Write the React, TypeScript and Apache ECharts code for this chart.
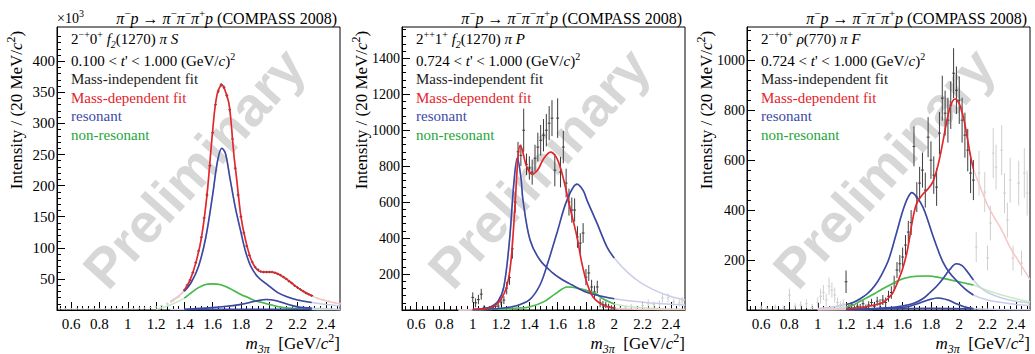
import React, { useEffect, useRef } from "react";
import * as echarts from "echarts";

// ---------------- tick labels ----------------
const X_TICK_LABELS = [0.6, 0.8, 1, 1.2, 1.4, 1.6, 1.8, 2, 2.2, 2.4];
const Y1_TICK_LABELS = [50, 100, 150, 200, 250, 300, 350, 400];
const Y2_TICK_LABELS = [200, 400, 600, 800, 1000, 1200, 1400];
const Y3_TICK_LABELS = [200, 400, 600, 800, 1000];

// ---------------- texts ----------------
const REACTION_TITLE =
  "{ni|π}{sup|−}{ni|p}{n| → }{ni|π}{sup|−}{ni|π}{sup|−}{ni|π}{sup|+}{ni|p}{n| (COMPASS 2008)}";
const WAVE_LABELS = [
  "{n|2}{sup|−+}{n|0}{sup|+}{n| }{ni|f}{sub|2}{n|(1270) }{ni|π S}",
  "{n|2}{sup|++}{n|1}{sup|+}{n| }{ni|f}{sub|2}{n|(1270) }{ni|π P}",
  "{n|2}{sup|−+}{n|0}{sup|+}{n| }{ni|ρ}{n|(770) }{ni|π F}",
];
const TPRIME_LABELS = [
  "{n|0.100 < }{ni|t}{n|' < 1.000 (GeV/}{ni|c}{n|)}{sup|2}",
  "{n|0.724 < }{ni|t}{n|' < 1.000 (GeV/}{ni|c}{n|)}{sup|2}",
  "{n|0.724 < }{ni|t}{n|' < 1.000 (GeV/}{ni|c}{n|)}{sup|2}",
];
const LEGEND_ITEMS = ["Mass-independent fit", "Mass-dependent fit", "resonant", "non-resonant"];
const Y_TITLE = "{n|Intensity / (20 MeV/}{ni|c}{sup|2}{n|)}";
const X_TITLE = "{ni|m}{sub|3π}{n|  [GeV/}{ni|c}{sup|2}{n|]}";
const WATERMARK = "Preliminary";

// ---------------- panel 1 : 2-+0+ f2(1270) pi S  (x10^3) ----------------
const P1_FIT_RANGE = [1.4, 2.3];
const p1Points = [
  [0.52, 2, 1], [0.56, 2, 1], [0.6, 2, 1], [0.64, 2, 1], [0.68, 2, 1], [0.72, 2, 1], [0.76, 2, 1],
  [0.8, 2, 1], [0.84, 2, 1], [0.88, 2, 1], [0.92, 2, 1], [0.96, 2, 1], [1.0, 2, 1], [1.04, 2, 1],
  [1.08, 3, 1], [1.12, 3, 1], [1.16, 4, 1], [1.2, 5, 1], [1.24, 7, 1], [1.28, 10, 2], [1.32, 15, 2],
  [1.36, 21, 2],
  [1.4, 32, 2], [1.42, 40, 2], [1.44, 48, 2], [1.46, 60, 2], [1.48, 76, 2], [1.5, 95, 2],
  [1.52, 117, 2], [1.54, 148, 2], [1.56, 185, 3], [1.58, 232, 3], [1.6, 285, 3], [1.62, 330, 3],
  [1.64, 352, 3], [1.66, 362, 3], [1.68, 358, 3], [1.7, 345, 3], [1.72, 322, 3], [1.74, 275, 3],
  [1.76, 228, 3], [1.78, 185, 3], [1.8, 150, 2], [1.82, 124, 2], [1.84, 103, 2], [1.86, 88, 2],
  [1.88, 77, 2], [1.9, 69, 2], [1.92, 65, 2], [1.94, 62, 2], [1.96, 61, 2], [1.98, 61, 2],
  [2.0, 61, 2], [2.02, 61, 2], [2.04, 60, 2], [2.06, 58, 2], [2.08, 56, 2], [2.1, 53, 2],
  [2.12, 50, 2], [2.14, 46, 2], [2.16, 43, 2], [2.18, 39, 2], [2.2, 36, 2], [2.22, 33, 2],
  [2.24, 30, 2], [2.26, 27, 2], [2.28, 25, 2], [2.3, 23, 2],
  [2.34, 19, 2], [2.38, 16, 2], [2.42, 14, 2], [2.46, 12, 2], [2.5, 10, 2],
];
const p1Total = [
  [1.3, 12], [1.35, 20], [1.4, 32], [1.44, 48], [1.48, 75], [1.52, 115], [1.56, 185], [1.6, 288],
  [1.63, 345], [1.665, 362], [1.7, 345], [1.72, 325], [1.75, 250], [1.77, 210], [1.8, 150],
  [1.83, 115], [1.87, 82], [1.91, 66], [1.95, 61], [2.0, 61], [2.05, 59], [2.1, 53], [2.15, 45],
  [2.2, 36], [2.25, 29], [2.3, 23], [2.35, 18], [2.4, 15], [2.45, 12], [2.5, 10],
];
const p1Res1 = [
  [1.3, 14], [1.35, 21], [1.4, 30], [1.45, 45], [1.5, 70], [1.55, 115], [1.6, 185], [1.635, 240],
  [1.665, 260], [1.69, 252], [1.72, 215], [1.76, 165], [1.8, 125], [1.83, 96], [1.87, 70],
  [1.92, 53], [1.98, 42], [2.06, 28], [2.13, 21], [2.2, 16], [2.3, 12], [2.4, 9], [2.5, 7],
];
const p1Res2 = [
  [1.3, 1], [1.4, 1], [1.55, 3], [1.7, 6], [1.8, 9], [1.9, 14], [1.98, 17], [2.05, 15], [2.12, 10],
  [2.2, 5], [2.3, 3], [2.4, 2], [2.5, 1],
];
const p1Res3 = [[1.4, 0.8], [1.7, 1.2], [2.0, 1.2], [2.3, 0.8]];
const p1Bkg = [
  [1.2, 1], [1.25, 4], [1.3, 8], [1.35, 13], [1.4, 19], [1.45, 28], [1.5, 36], [1.55, 41], [1.6, 42],
  [1.65, 41], [1.7, 37], [1.75, 31], [1.8, 25], [1.85, 20], [1.9, 15], [1.95, 12], [2.0, 9],
  [2.05, 6], [2.1, 4], [2.2, 2], [2.3, 1], [2.4, 0.5], [2.5, 0.3],
];

// ---------------- panel 2 : 2++1+ f2(1270) pi P ----------------
const P2_FIT_RANGE = [1.0, 2.0];
const p2Points = [
  [1.0, 70, 28], [1.02, 40, 25], [1.04, 58, 26], [1.06, 88, 30], [1.08, 15, 12], [1.1, 8, 8],
  [1.12, 10, 10], [1.14, 14, 10], [1.16, 20, 12], [1.18, 22, 14], [1.2, 44, 18], [1.22, 55, 22],
  [1.24, 122, 35], [1.26, 180, 40], [1.28, 340, 55], [1.3, 600, 60], [1.32, 880, 55],
  [1.34, 860, 60], [1.36, 1000, 120], [1.38, 810, 60], [1.4, 790, 65], [1.42, 767, 70],
  [1.44, 844, 75], [1.46, 906, 80], [1.48, 944, 85], [1.5, 972, 90], [1.52, 1000, 90],
  [1.54, 1039, 95], [1.56, 1067, 100], [1.58, 778, 90], [1.6, 1067, 110], [1.62, 767, 85],
  [1.64, 906, 90], [1.66, 706, 80], [1.68, 600, 75], [1.7, 556, 70], [1.72, 556, 65],
  [1.74, 406, 60], [1.76, 372, 55], [1.78, 428, 55], [1.8, 183, 45], [1.82, 206, 45],
  [1.84, 128, 40], [1.86, 100, 35], [1.88, 128, 35], [1.9, 40, 25], [1.92, 30, 20],
  [1.94, 28, 18], [1.96, 20, 15], [1.98, 15, 12], [2.0, 12, 10],
  [2.04, 10, 10], [2.08, 15, 12], [2.12, 20, 14], [2.16, 12, 12], [2.2, 25, 15], [2.24, 39, 20],
  [2.28, 30, 18], [2.32, 35, 18], [2.34, 67, 25], [2.38, 67, 25], [2.42, 45, 20], [2.46, 39, 20],
  [2.48, 50, 22],
];
const p2Total = [
  [0.9, 0.5], [1.0, 1], [1.1, 8], [1.15, 20], [1.2, 60], [1.24, 130], [1.27, 270], [1.3, 600],
  [1.32, 850], [1.335, 915], [1.35, 890], [1.38, 800], [1.42, 755], [1.46, 780], [1.5, 840],
  [1.55, 878], [1.59, 850], [1.62, 790], [1.65, 700], [1.687, 570], [1.737, 406], [1.77, 265],
  [1.807, 150], [1.85, 72], [1.92, 28], [2.0, 10], [2.1, 5], [2.2, 3], [2.35, 2], [2.5, 1],
];
const p2Res1 = [
  [0.9, 0.5], [1.0, 2], [1.05, 5], [1.12, 15], [1.18, 50], [1.22, 130], [1.26, 390], [1.29, 700],
  [1.315, 845], [1.34, 740], [1.355, 611], [1.405, 389], [1.475, 278], [1.567, 205], [1.62, 175],
  [1.7, 140], [1.8, 100], [1.9, 78], [2.0, 63], [2.1, 52], [2.2, 44], [2.3, 37], [2.4, 32],
  [2.5, 28],
];
const p2Res2 = [
  [0.9, 0.5], [1.0, 2], [1.1, 5], [1.2, 10], [1.3, 22], [1.4, 56], [1.475, 139], [1.53, 261],
  [1.595, 428], [1.666, 611], [1.737, 700], [1.78, 665], [1.807, 611], [1.878, 483], [1.949, 350],
  [2.0, 289], [2.1, 205], [2.2, 145], [2.3, 105], [2.4, 75], [2.5, 56],
];
const p2Bkg = [
  [0.9, 0.3], [1.0, 1], [1.1, 3], [1.2, 6], [1.3, 10], [1.4, 17], [1.5, 45], [1.58, 88], [1.67, 128],
  [1.75, 120], [1.82, 105], [1.87, 90], [1.93, 58], [2.0, 33], [2.1, 20], [2.2, 12], [2.35, 7],
  [2.5, 4],
];

// ---------------- panel 3 : 2-+0+ rho(770) pi F ----------------
const P3_FIT_RANGE = [1.2, 2.1];
const p3Points = [
  [0.6, 10, 8], [0.64, 5, 8], [0.7, 12, 10], [0.76, 8, 10], [0.8, 60, 25], [0.84, 15, 12],
  [0.88, 20, 15], [0.92, 25, 18], [0.96, 10, 15], [1.0, 30, 20], [1.02, 55, 30], [1.04, 70, 30],
  [1.06, 40, 25], [1.08, 95, 35], [1.1, 80, 30], [1.12, 60, 30], [1.14, 30, 20], [1.16, 20, 15],
  [1.18, 25, 18],
  [1.2, 113, 45], [1.22, 10, 10], [1.24, 20, 12], [1.26, 8, 10], [1.28, 15, 12], [1.3, 12, 12],
  [1.32, 25, 15], [1.34, 10, 12], [1.36, 20, 15], [1.38, 30, 15], [1.4, 15, 15], [1.42, 35, 18],
  [1.44, 25, 18], [1.46, 40, 20], [1.48, 30, 20], [1.5, 55, 22], [1.52, 70, 25], [1.54, 107, 30],
  [1.56, 160, 32], [1.58, 185, 35], [1.6, 212, 38], [1.62, 260, 40], [1.64, 312, 45],
  [1.66, 350, 50], [1.68, 655, 80], [1.7, 452, 60], [1.72, 508, 65], [1.74, 560, 70],
  [1.76, 480, 70], [1.78, 692, 80], [1.8, 600, 75], [1.82, 540, 75], [1.84, 492, 75],
  [1.86, 708, 85], [1.88, 848, 90], [1.9, 788, 90], [1.92, 760, 90], [1.94, 820, 95],
  [1.96, 948, 100], [1.98, 880, 95], [2.0, 840, 95], [2.02, 760, 90], [2.04, 700, 90],
  [2.06, 640, 85], [2.08, 548, 80], [2.1, 520, 80],
  [2.12, 252, 60], [2.14, 548, 90], [2.18, 472, 80], [2.2, 208, 50], [2.22, 348, 70],
  [2.24, 628, 100], [2.26, 572, 90], [2.3, 640, 100], [2.32, 468, 80], [2.34, 360, 70],
  [2.36, 520, 90], [2.38, 208, 50], [2.42, 508, 90], [2.44, 188, 50], [2.46, 548, 100],
  [2.48, 468, 90],
];
const p3Total = [
  [1.0, 2], [1.1, 4], [1.2, 6], [1.28, 8], [1.35, 14], [1.4, 20], [1.46, 30], [1.5, 48], [1.53, 68],
  [1.56, 105], [1.6, 165], [1.63, 230], [1.65, 292], [1.67, 360], [1.7, 428], [1.745, 465],
  [1.78, 485], [1.815, 515], [1.85, 580], [1.88, 660], [1.91, 750], [1.94, 820], [1.97, 845],
  [2.0, 825], [2.03, 770], [2.06, 680], [2.08, 615], [2.1, 565], [2.15, 490], [2.2, 420],
  [2.25, 368], [2.3, 320], [2.36, 250], [2.42, 195], [2.5, 122],
];
const p3Res1 = [
  [1.0, 6], [1.1, 12], [1.2, 22], [1.25, 30], [1.3, 45], [1.35, 65], [1.4, 95], [1.45, 140],
  [1.5, 200], [1.55, 295], [1.6, 395], [1.635, 448], [1.665, 470], [1.7, 452], [1.745, 410],
  [1.78, 355], [1.815, 295], [1.85, 240], [1.885, 192], [1.93, 150], [1.98, 118], [2.04, 85],
  [2.1, 60], [2.2, 40], [2.3, 30], [2.4, 22], [2.5, 18],
];
const p3Res2 = [
  [1.0, 1], [1.2, 2], [1.4, 6], [1.55, 12], [1.65, 22], [1.7, 32], [1.75, 48], [1.79, 68],
  [1.84, 95], [1.885, 125], [1.93, 160], [1.98, 185], [2.02, 178], [2.055, 155], [2.1, 120],
  [2.15, 90], [2.2, 70], [2.3, 48], [2.4, 35], [2.5, 28],
];
const p3Res3 = [
  [1.0, 0], [1.2, 1], [1.4, 3], [1.55, 8], [1.65, 15], [1.72, 28], [1.78, 40], [1.85, 48],
  [1.92, 40], [1.98, 25], [2.04, 12], [2.1, 6], [2.3, 2], [2.5, 1],
];
const p3Res4 = [[1.2, 2], [1.5, 5], [1.8, 7], [2.1, 5]];
const p3Bkg = [
  [1.0, 3], [1.1, 6], [1.2, 12], [1.25, 20], [1.3, 35], [1.35, 50], [1.4, 65], [1.45, 82],
  [1.51, 100], [1.57, 118], [1.62, 128], [1.7, 135], [1.78, 136], [1.86, 130], [1.94, 120],
  [2.02, 110], [2.1, 100], [2.2, 78], [2.3, 60], [2.4, 45], [2.5, 32],
];

// ---------------- styling ----------------
const SERIF = "'Liberation Serif', 'Times New Roman', 'DejaVu Serif', serif";
const SANS = "'Liberation Sans', Arial, sans-serif";
const RED = "#e3262b";
const BLUE = "#3a48a2";
const GREEN = "#49b94b";
const RED_F = "#f6c6c6";
const BLUE_F = "#cbcde8";
const GREEN_F = "#c6e9c6";
const PT = "#3c3c3c";
const PT_F = "#cfcfcf";
const LEGEND_COLORS = ["#1c1c1c", "#e3232c", "#3c4aa8", "#1fa53a"];

const LEFTS = [57, 402, 747];
const TOP = 27;
const W = 283;
const H = 283;

const PANELS = [
  {
    yMax: 455, yLabels: Y1_TICK_LABELS, yMinor: 10, fit: P1_FIT_RANGE, points: p1Points, labelSize: 15,
    curves: [
      { d: p1Bkg, c: GREEN, f: GREEN_F },
      { d: p1Res3, c: BLUE, f: null },
      { d: p1Res2, c: BLUE, f: BLUE_F },
      { d: p1Res1, c: BLUE, f: BLUE_F },
      { d: p1Total, c: RED, f: RED_F },
    ],
    errW: 0.01,
  },
  {
    yMax: 1574, yLabels: Y2_TICK_LABELS, yMinor: 40, fit: P2_FIT_RANGE, points: p2Points, labelSize: 14,
    curves: [
      { d: p2Bkg, c: GREEN, f: GREEN_F },
      { d: p2Res2, c: BLUE, f: BLUE_F },
      { d: p2Res1, c: BLUE, f: BLUE_F },
      { d: p2Total, c: RED, f: RED_F },
    ],
    errW: 0.01,
  },
  {
    yMax: 1133, yLabels: Y3_TICK_LABELS, yMinor: 40, fit: P3_FIT_RANGE, points: p3Points, labelSize: 14,
    curves: [
      { d: p3Bkg, c: GREEN, f: GREEN_F },
      { d: p3Res4, c: BLUE, f: null },
      { d: p3Res3, c: BLUE, f: BLUE_F },
      { d: p3Res2, c: BLUE, f: BLUE_F },
      { d: p3Res1, c: BLUE, f: BLUE_F },
      { d: p3Total, c: RED, f: RED_F },
    ],
    errW: 0.01,
  },
];

function rich(size: number) {
  const lh = Math.round(size * 1.35);
  return {
    n: { fontSize: size, fontFamily: SERIF, lineHeight: lh, verticalAlign: "middle" },
    ni: { fontSize: size, fontFamily: SERIF, fontStyle: "italic", lineHeight: lh, verticalAlign: "middle" },
    sup: { fontSize: Math.round(size * 0.68), fontFamily: SERIF, verticalAlign: "top", lineHeight: Math.round(size * 0.7) },
    sub: { fontSize: Math.round(size * 0.68), fontFamily: SERIF, fontStyle: "italic", verticalAlign: "bottom", lineHeight: Math.round(size * 0.7) },
  };
}

function minorTicks(start: number, end: number, step: number, majorStep: number) {
  const out: number[] = [];
  for (let k = 0; ; k++) {
    const v = Math.round((start + k * step) * 1000) / 1000;
    if (v > end + 1e-9) break;
    const r = v / majorStep;
    if (Math.abs(r - Math.round(r)) > 1e-6 && v > 0) out.push(v);
  }
  return out;
}

function buildOption() {
  const grid: any[] = [];
  const xAxis: any[] = [];
  const yAxis: any[] = [];
  const series: any[] = [];
  const graphic: any[] = [];

  const xMinor = minorTicks(0.52, 2.48, 0.04, 0.2);

  PANELS.forEach((p, i) => {
    const L = LEFTS[i];
    grid.push({ left: L, top: TOP, width: W, height: H, show: true, borderColor: "#000", borderWidth: 1, backgroundColor: "transparent" });
    xAxis.push({
      gridIndex: i, type: "value", min: 0.5, max: 2.5,
      axisLine: { show: true, onZero: false, lineStyle: { color: "#000", width: 1 } },
      axisTick: { show: true, inside: true, length: 8, customValues: X_TICK_LABELS, lineStyle: { color: "#000", width: 1 } },
      axisLabel: {
        customValues: X_TICK_LABELS, margin: 6, color: "#000", fontSize: 15, fontFamily: SERIF,
        formatter: (v: number) => String(Math.round(v * 10) / 10),
      },
      splitLine: { show: false },
    });
    yAxis.push({
      gridIndex: i, type: "value", min: 0, max: p.yMax,
      axisLine: { show: true, onZero: false, lineStyle: { color: "#000", width: 1 } },
      axisTick: { show: true, inside: true, length: 8, customValues: p.yLabels, lineStyle: { color: "#000", width: 1 } },
      axisLabel: {
        customValues: p.yLabels, margin: 2, color: "#000", fontSize: p.labelSize, fontFamily: SERIF,
        formatter: (v: number) => String(Math.round(v)),
      },
      splitLine: { show: false },
    });
  });
  PANELS.forEach((p, i) => {
    const majorStep = p.yLabels[1] - p.yLabels[0];
    const yMinor = minorTicks(p.yMinor, p.yMax, p.yMinor, majorStep);
    xAxis.push({
      gridIndex: i, type: "value", min: 0.5, max: 2.5, position: "bottom",
      axisLine: { show: false },
      axisTick: { show: true, inside: true, length: 4, customValues: xMinor, lineStyle: { color: "#000", width: 1 } },
      axisLabel: { show: false },
      splitLine: { show: false },
    });
    yAxis.push({
      gridIndex: i, type: "value", min: 0, max: p.yMax, position: "left",
      axisLine: { show: false },
      axisTick: { show: true, inside: true, length: 4, customValues: yMinor, lineStyle: { color: "#000", width: 1 } },
      axisLabel: { show: false },
      splitLine: { show: false },
    });
  });

  PANELS.forEach((p, i) => {
    const L = LEFTS[i];
    const [lo, hi] = p.fit;
    const inFit = (m: number) => m >= lo - 1e-9 && m <= hi + 1e-9;
    p.curves.forEach((cv) => {
      if (!cv.f) return;
      series.push({
        type: "line", xAxisIndex: i, yAxisIndex: i, data: cv.d, showSymbol: false, symbol: "none",
        smooth: 0.35, lineStyle: { color: cv.f, width: 1.5 }, z: 2, silent: true,
      });
    });
    const yMax = p.yMax;
    const errRender = (color: string) => (params: any, api: any) => {
      const m = api.value(0), v = api.value(1), e = api.value(2);
      const top = api.coord([m, Math.min(yMax, v + e)]);
      const bot = api.coord([m, Math.max(0, v - e)]);
      const l = api.coord([m - p.errW, v]);
      const r = api.coord([m + p.errW, v]);
      return {
        type: "group",
        children: [
          { type: "line", shape: { x1: top[0], y1: top[1], x2: bot[0], y2: bot[1] }, style: { stroke: color, lineWidth: 1 } },
          { type: "line", shape: { x1: l[0], y1: l[1], x2: r[0], y2: r[1] }, style: { stroke: color, lineWidth: 1 } },
        ],
      };
    };
    series.push({
      type: "custom", xAxisIndex: i, yAxisIndex: i, silent: true, z: 2,
      data: p.points.filter((d) => !inFit(d[0])), renderItem: errRender(PT_F),
    });
    series.push({
      type: "custom", xAxisIndex: i, yAxisIndex: i, silent: true, z: 3,
      data: p.points.filter((d) => inFit(d[0])), renderItem: errRender(PT),
    });
    p.curves.forEach((cv, k) => {
      series.push({
        type: "line", xAxisIndex: i, yAxisIndex: i, data: cv.d.filter((d) => inFit(d[0])),
        showSymbol: false, symbol: "none", smooth: 0.35,
        lineStyle: { color: cv.c, width: 1.6 }, z: 4 + k, silent: true,
      });
    });

    graphic.push({
      type: "text", x: L + 137, y: 168, rotation: (48 * Math.PI) / 180, z: 0,
      style: { text: WATERMARK, fill: "#d7d7d7", fontFamily: SANS, fontWeight: "bold", fontSize: 55, align: "center", verticalAlign: "middle" },
    });
    graphic.push({
      type: "text", x: L + W - 3, y: 18, z: 10,
      style: { text: REACTION_TITLE, rich: rich(16), fill: "#000", align: "right", verticalAlign: "middle" },
    });
    graphic.push({
      type: "text", x: L + 14, y: 39, z: 10,
      style: { text: WAVE_LABELS[i], rich: rich(15), fill: "#000", align: "left", verticalAlign: "middle" },
    });
    graphic.push({
      type: "text", x: L + 14, y: 61, z: 10,
      style: { text: TPRIME_LABELS[i], rich: rich(15), fill: "#000", align: "left", verticalAlign: "middle" },
    });
    const legY = [79, 98, 116, 135];
    LEGEND_ITEMS.forEach((t, k) => {
      graphic.push({
        type: "text", x: L + 14, y: legY[k], z: 10,
        style: { text: t, fill: LEGEND_COLORS[k], fontFamily: SERIF, fontSize: 15, align: "left", verticalAlign: "middle" },
      });
    });
    graphic.push({
      type: "text", x: L - 41, y: 110, rotation: Math.PI / 2, z: 10,
      style: { text: Y_TITLE, rich: rich(17), fill: "#000", align: "center", verticalAlign: "middle" },
    });
    graphic.push({
      type: "text", x: L + W, y: 343, z: 10,
      style: { text: X_TITLE, rich: rich(17), fill: "#000", align: "right", verticalAlign: "middle" },
    });
    if (i === 0) {
      graphic.push({
        type: "text", x: L, y: 18, z: 10,
        style: { text: "{n|×10}{sup|3}", rich: rich(14), fill: "#000", align: "left", verticalAlign: "middle" },
      });
    }
  });

  return { animation: false, backgroundColor: "#fff", grid, xAxis, yAxis, series, graphic };
}

export default function App() {
  const ref = useRef<HTMLDivElement>(null);
  useEffect(() => {
    if (!ref.current) return;
    const chart = echarts.init(ref.current, null, { renderer: "svg" });
    chart.setOption(buildOption() as any);
    return () => chart.dispose();
  }, []);
  return (
    <div
      ref={ref}
      style={{ position: "fixed", left: 0, top: 0, width: 1035, height: 354, background: "#fff" }}
    />
  );
}
